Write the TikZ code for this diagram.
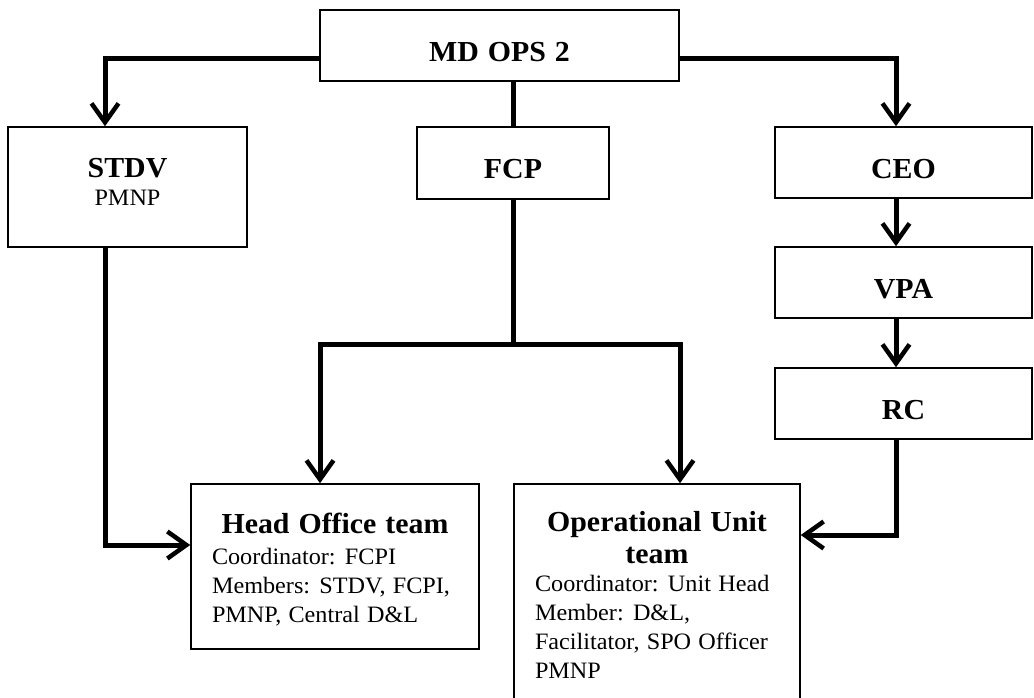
\documentclass[tikz,border=0pt]{standalone}
\usepackage{fontspec}
\setmainfont{Liberation Serif}[FakeStretch=1.03, WordSpace=1.2]
\usetikzlibrary{arrows.meta}
\newcommand{\headfont}{\fontsize{29}{31}\selectfont\bfseries}
\newcommand{\bodyfont}{\fontsize{23.5}{29}\selectfont}
% a centred title line spanning the whole box, and an indented body line
\newcommand{\titleline}[2]{\makebox[#1][c]{\headfont #2}}
\newcommand{\bodyline}[1]{\hspace*{21pt}#1}
\begin{document}
\begin{tikzpicture}[x=1pt,y=-1pt,
  box/.style={draw, line width=1.5pt, rectangle, inner sep=0pt},
  unit/.style={box, align=center, font=\headfont, text height=31pt, text depth=0pt},
  team/.style={box, align=left, font=\bodyfont},
  link/.style={line width=5pt},
  arr/.style={link, -{Straight Barb[length=19pt,width=27pt,line width=4.5pt]}},
]
\useasboundingbox (0,0) rectangle (1034,697);
\clip (0,0) rectangle (1034,697);

% units
\node[unit, minimum width=359pt, minimum height=71pt] (md) at (499.5,45.5) {MD OPS 2};
\node[box, align=center, font=\headfont, text depth=10pt, minimum width=239pt, minimum height=120pt]
  (stdv) at (127.5,187) {STDV\\[-3pt]{\bodyfont\mdseries PMNP}};
\node[unit, minimum width=192pt, minimum height=72pt] (fcp) at (513,163) {FCP};
\node[unit, minimum width=257pt, minimum height=71pt] (ceo) at (903.5,162.5) {CEO};
\node[unit, minimum width=257pt, minimum height=71pt] (vpa) at (903.5,282.5) {VPA};
\node[unit, minimum width=257pt, minimum height=71pt] (rc) at (903.5,403.5) {RC};

% teams
\node[team, minimum width=288pt, minimum height=165pt] (ho) at (335,566.5)
  {\rule{0pt}{26pt}\titleline{288pt}{Head Office team}\\[2pt]
   \bodyline{Coordinator: FCPI}\\
   \bodyline{Members: STDV, FCPI,}\\
   \bodyline{PMNP, Central D\&L}};
\node[team, minimum width=286pt, minimum height=222pt] (op) at (657,595)
  {\titleline{286pt}{Operational Unit}\\[3pt]
   \titleline{286pt}{team}\\[-1pt]
   \bodyline{Coordinator: Unit Head}\\
   \bodyline{Member: D\&L,}\\
   \bodyline{Facilitator, SPO Officer}\\
   \bodyline{PMNP}};

% reporting lines
\coordinate (split) at (513,344);
\draw[arr] ([yshift=-12.5pt]md.west) -| ([xshift=-22.5pt]stdv.north);
\draw[arr] ([yshift=-12.5pt]md.east) -| ([xshift=-7.5pt]ceo.north);
\draw[link] (fcp.north |- md.south) -- (fcp.north);
\draw[link] (fcp.south) -- (split);
\draw[arr] (split) -| ([xshift=-15pt]ho.north);
\draw[arr] (split) -| ([xshift=23pt]op.north);
\draw[arr] ([xshift=-7.5pt]ceo.south) -- ([xshift=-7.5pt]vpa.north);
\draw[arr] ([xshift=-7.5pt]vpa.south) -- ([xshift=-7.5pt]rc.north);
\draw[arr] ([xshift=-7.5pt]rc.south) |- ([yshift=60pt]op.east);
\draw[arr] ([xshift=-22.5pt]stdv.south) |- ([yshift=21.5pt]ho.west);
\end{tikzpicture}
\end{document}
